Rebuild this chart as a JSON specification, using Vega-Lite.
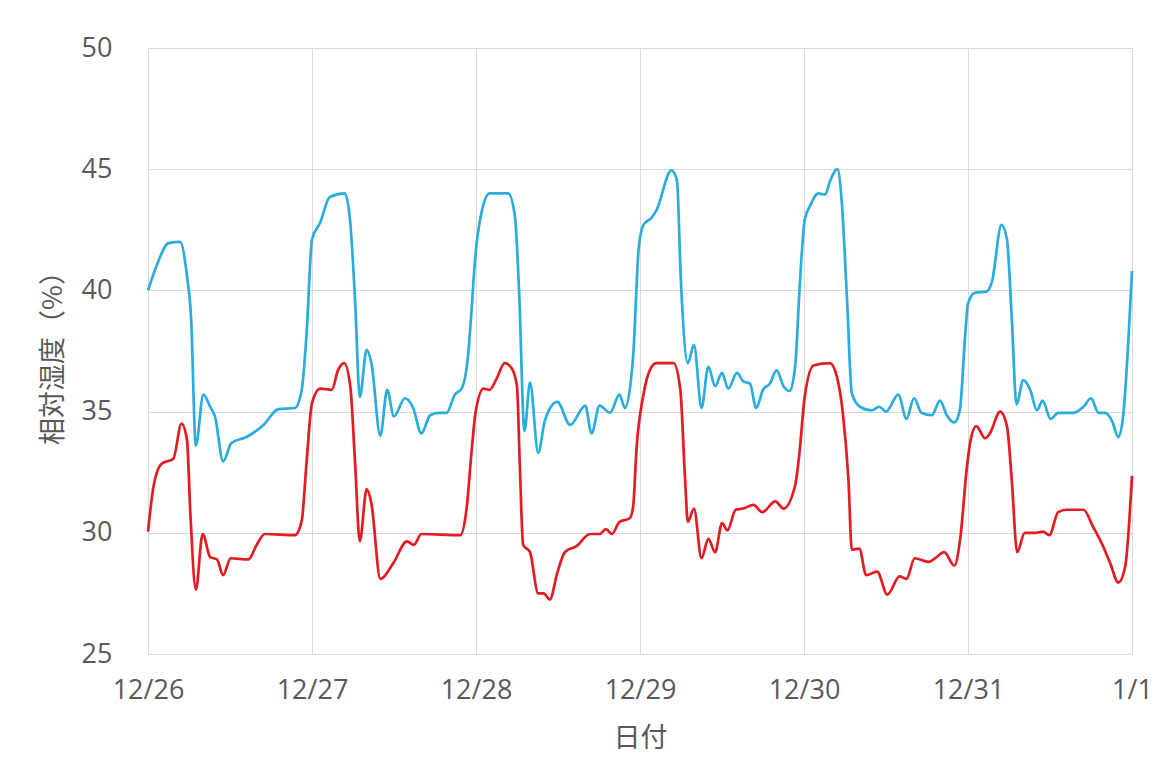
{
  "$schema": "https://vega.github.io/schema/vega-lite/v6.json",
  "width": 984,
  "height": 606,
  "autosize": "none",
  "padding": {"left": 148, "top": 48, "right": 38, "bottom": 120},
  "background": "white",
  "config": {"view": {"stroke": null}},
  "data": {"values": [
    {"s":"A","h":0,"v":40},{"s":"A","h":1.3,"v":41.05},{"s":"A","h":3,"v":41.95},{"s":"A","h":4.7,"v":42},{"s":"A","h":5.7,"v":40.6},{"s":"A","h":6.3,"v":38.9},{"s":"A","h":7,"v":33.6},{"s":"A","h":8.1,"v":35.7},{"s":"A","h":9.1,"v":35.2},{"s":"A","h":9.8,"v":34.8},{"s":"A","h":11,"v":32.95},{"s":"A","h":12.2,"v":33.7},{"s":"A","h":14.4,"v":33.95},{"s":"A","h":16.9,"v":34.45},{"s":"A","h":19.1,"v":35.1},{"s":"A","h":21.5,"v":35.15},{"s":"A","h":22.5,"v":35.9},{"s":"A","h":23.2,"v":38.2},{"s":"A","h":24,"v":42.1},{"s":"A","h":25.2,"v":42.8},{"s":"A","h":26.6,"v":43.85},{"s":"A","h":28.8,"v":44},{"s":"A","h":29.6,"v":42.8},{"s":"A","h":30.3,"v":39.6},{"s":"A","h":31,"v":35.6},{"s":"A","h":32,"v":37.55},{"s":"A","h":32.7,"v":37},{"s":"A","h":34,"v":34},{"s":"A","h":35,"v":35.9},{"s":"A","h":36,"v":34.8},{"s":"A","h":37.6,"v":35.55},{"s":"A","h":38.8,"v":35.15},{"s":"A","h":40,"v":34.1},{"s":"A","h":41.3,"v":34.85},{"s":"A","h":42.5,"v":34.95},{"s":"A","h":43.7,"v":34.95},{"s":"A","h":44.9,"v":35.7},{"s":"A","h":45.9,"v":35.95},{"s":"A","h":46.9,"v":37.5},{"s":"A","h":47.3,"v":39},{"s":"A","h":47.9,"v":41.4},{"s":"A","h":48.8,"v":43.2},{"s":"A","h":50,"v":44},{"s":"A","h":52.7,"v":44},{"s":"A","h":53.7,"v":43.05},{"s":"A","h":54.3,"v":40},{"s":"A","h":55.1,"v":34.2},{"s":"A","h":55.9,"v":36.2},{"s":"A","h":57.1,"v":33.3},{"s":"A","h":58.1,"v":34.65},{"s":"A","h":59.9,"v":35.4},{"s":"A","h":61.8,"v":34.45},{"s":"A","h":64,"v":35.25},{"s":"A","h":64.9,"v":34.1},{"s":"A","h":66.1,"v":35.25},{"s":"A","h":67.6,"v":34.95},{"s":"A","h":69,"v":35.7},{"s":"A","h":69.8,"v":35.15},{"s":"A","h":71,"v":37.3},{"s":"A","h":71.8,"v":41.7},{"s":"A","h":72.5,"v":42.7},{"s":"A","h":73.7,"v":43},{"s":"A","h":74.4,"v":43.3},{"s":"A","h":76.6,"v":44.95},{"s":"A","h":77.4,"v":44.55},{"s":"A","h":78,"v":40.3},{"s":"A","h":79,"v":37},{"s":"A","h":79.9,"v":37.75},{"s":"A","h":81,"v":35.15},{"s":"A","h":82,"v":36.85},{"s":"A","h":83,"v":36.05},{"s":"A","h":84,"v":36.6},{"s":"A","h":84.9,"v":35.95},{"s":"A","h":86.2,"v":36.6},{"s":"A","h":87.1,"v":36.25},{"s":"A","h":88.1,"v":36.15},{"s":"A","h":89,"v":35.15},{"s":"A","h":90,"v":35.9},{"s":"A","h":91,"v":36.15},{"s":"A","h":92,"v":36.7},{"s":"A","h":93,"v":36.05},{"s":"A","h":93.9,"v":35.85},{"s":"A","h":94.7,"v":36.85},{"s":"A","h":95.4,"v":40.3},{"s":"A","h":96.1,"v":42.9},{"s":"A","h":96.9,"v":43.5},{"s":"A","h":98.1,"v":44},{"s":"A","h":99.1,"v":43.95},{"s":"A","h":99.8,"v":44.5},{"s":"A","h":100.9,"v":45},{"s":"A","h":101.5,"v":43.75},{"s":"A","h":102.3,"v":39.6},{"s":"A","h":103,"v":35.75},{"s":"A","h":104.2,"v":35.2},{"s":"A","h":105.9,"v":35.05},{"s":"A","h":107,"v":35.2},{"s":"A","h":108,"v":35},{"s":"A","h":109.8,"v":35.7},{"s":"A","h":111,"v":34.7},{"s":"A","h":112.1,"v":35.55},{"s":"A","h":113.2,"v":34.95},{"s":"A","h":114.7,"v":34.85},{"s":"A","h":115.9,"v":35.45},{"s":"A","h":116.9,"v":34.85},{"s":"A","h":118,"v":34.55},{"s":"A","h":118.8,"v":35.05},{"s":"A","h":119.6,"v":38.2},{"s":"A","h":120,"v":39.45},{"s":"A","h":121,"v":39.9},{"s":"A","h":122.7,"v":39.95},{"s":"A","h":123.5,"v":40.35},{"s":"A","h":124.9,"v":42.7},{"s":"A","h":125.7,"v":42.1},{"s":"A","h":126.4,"v":38.9},{"s":"A","h":127.1,"v":35.3},{"s":"A","h":128.1,"v":36.3},{"s":"A","h":129.1,"v":35.9},{"s":"A","h":130.1,"v":35.05},{"s":"A","h":130.9,"v":35.45},{"s":"A","h":132.1,"v":34.7},{"s":"A","h":133.2,"v":34.95},{"s":"A","h":135.4,"v":34.95},{"s":"A","h":136.9,"v":35.2},{"s":"A","h":138,"v":35.55},{"s":"A","h":139.1,"v":34.95},{"s":"A","h":140.1,"v":34.95},{"s":"A","h":141.1,"v":34.6},{"s":"A","h":142,"v":33.95},{"s":"A","h":142.7,"v":34.8},{"s":"A","h":143.5,"v":38.1},{"s":"A","h":144,"v":40.8},
    {"s":"B","h":0,"v":30.05},{"s":"B","h":0.8,"v":31.9},{"s":"B","h":2,"v":32.85},{"s":"B","h":3.7,"v":33.05},{"s":"B","h":4.9,"v":34.5},{"s":"B","h":5.7,"v":33.85},{"s":"B","h":6.2,"v":30.8},{"s":"B","h":7,"v":27.65},{"s":"B","h":8,"v":29.95},{"s":"B","h":9.1,"v":29},{"s":"B","h":10.1,"v":28.9},{"s":"B","h":11,"v":28.25},{"s":"B","h":12.1,"v":28.95},{"s":"B","h":14.7,"v":28.9},{"s":"B","h":15.9,"v":29.5},{"s":"B","h":17.1,"v":29.95},{"s":"B","h":21.5,"v":29.9},{"s":"B","h":22.5,"v":30.5},{"s":"B","h":23.2,"v":32.9},{"s":"B","h":24,"v":35.35},{"s":"B","h":25.2,"v":35.95},{"s":"B","h":26.9,"v":35.9},{"s":"B","h":27.8,"v":36.7},{"s":"B","h":28.7,"v":37},{"s":"B","h":29.6,"v":36.05},{"s":"B","h":30.3,"v":32.9},{"s":"B","h":31,"v":29.65},{"s":"B","h":32,"v":31.8},{"s":"B","h":32.7,"v":31.2},{"s":"B","h":34,"v":28.1},{"s":"B","h":35.9,"v":28.75},{"s":"B","h":37.9,"v":29.65},{"s":"B","h":38.9,"v":29.5},{"s":"B","h":40,"v":29.95},{"s":"B","h":45.7,"v":29.9},{"s":"B","h":46.6,"v":30.95},{"s":"B","h":47.4,"v":33.5},{"s":"B","h":47.9,"v":34.9},{"s":"B","h":49.1,"v":35.95},{"s":"B","h":50,"v":35.9},{"s":"B","h":51,"v":36.35},{"s":"B","h":52.2,"v":37},{"s":"B","h":53.2,"v":36.8},{"s":"B","h":54,"v":36.05},{"s":"B","h":54.4,"v":32.9},{"s":"B","h":54.9,"v":29.5},{"s":"B","h":55.9,"v":29.2},{"s":"B","h":57.1,"v":27.5},{"s":"B","h":57.9,"v":27.5},{"s":"B","h":58.8,"v":27.25},{"s":"B","h":59.9,"v":28.35},{"s":"B","h":61,"v":29.2},{"s":"B","h":62.7,"v":29.45},{"s":"B","h":64.7,"v":29.95},{"s":"B","h":66.1,"v":29.95},{"s":"B","h":67,"v":30.15},{"s":"B","h":67.9,"v":29.95},{"s":"B","h":69,"v":30.45},{"s":"B","h":70.5,"v":30.6},{"s":"B","h":71,"v":31.1},{"s":"B","h":71.5,"v":33.5},{"s":"B","h":72.5,"v":35.7},{"s":"B","h":73.7,"v":36.85},{"s":"B","h":74.4,"v":37},{"s":"B","h":76.9,"v":37},{"s":"B","h":77.9,"v":35.9},{"s":"B","h":78.6,"v":32.2},{"s":"B","h":79,"v":30.45},{"s":"B","h":79.9,"v":31},{"s":"B","h":81,"v":28.95},{"s":"B","h":82,"v":29.75},{"s":"B","h":83,"v":29.2},{"s":"B","h":84,"v":30.4},{"s":"B","h":84.8,"v":30.1},{"s":"B","h":86,"v":30.95},{"s":"B","h":87.1,"v":31},{"s":"B","h":88.6,"v":31.15},{"s":"B","h":89.9,"v":30.85},{"s":"B","h":91.8,"v":31.3},{"s":"B","h":93,"v":31},{"s":"B","h":94.7,"v":31.95},{"s":"B","h":95.3,"v":33.2},{"s":"B","h":96.1,"v":35.6},{"s":"B","h":97.4,"v":36.9},{"s":"B","h":99.8,"v":37},{"s":"B","h":100.8,"v":36.45},{"s":"B","h":101.7,"v":34.9},{"s":"B","h":102.5,"v":32.2},{"s":"B","h":103,"v":29.3},{"s":"B","h":104.1,"v":29.35},{"s":"B","h":105.1,"v":28.25},{"s":"B","h":106.7,"v":28.4},{"s":"B","h":108.2,"v":27.45},{"s":"B","h":110,"v":28.2},{"s":"B","h":111,"v":28.1},{"s":"B","h":112.2,"v":28.95},{"s":"B","h":114.2,"v":28.8},{"s":"B","h":115.4,"v":29},{"s":"B","h":116.5,"v":29.2},{"s":"B","h":118,"v":28.65},{"s":"B","h":118.9,"v":29.85},{"s":"B","h":119.8,"v":32.6},{"s":"B","h":120.4,"v":33.85},{"s":"B","h":121.2,"v":34.4},{"s":"B","h":122.5,"v":33.9},{"s":"B","h":123.2,"v":34.1},{"s":"B","h":124.7,"v":35},{"s":"B","h":125.7,"v":34.4},{"s":"B","h":126.4,"v":32.2},{"s":"B","h":127.2,"v":29.2},{"s":"B","h":128.3,"v":30},{"s":"B","h":129.8,"v":30},{"s":"B","h":131,"v":30.05},{"s":"B","h":131.9,"v":29.9},{"s":"B","h":133.2,"v":30.85},{"s":"B","h":134.4,"v":30.95},{"s":"B","h":136.9,"v":30.95},{"s":"B","h":138.3,"v":30.25},{"s":"B","h":139.6,"v":29.55},{"s":"B","h":140.8,"v":28.75},{"s":"B","h":142,"v":27.95},{"s":"B","h":143,"v":28.6},{"s":"B","h":144,"v":32.35}
  ]},
  "mark": {"type": "line", "interpolate": "monotone", "strokeWidth": 2.7},
  "encoding": {
    "x": {
      "field": "h", "type": "quantitative",
      "scale": {"domain": [0, 144], "nice": false, "zero": false},
      "axis": {
        "title": "日付",
        "values": [0, 24, 48, 72, 96, 120, 144],
        "labelExpr": "['12/26','12/27','12/28','12/29','12/30','12/31','1/1'][round(datum.value/24)]",
        "grid": true, "gridColor": "#d9d9d9", "gridWidth": 1,
        "domain": false, "ticks": false,
        "labelFont": "Open Sans", "labelFontSize": 27, "labelColor": "#595959", "labelPadding": 23,
        "labelFlush": false,
        "titleFont": "Noto Sans CJK JP", "titleFontSize": 27, "titleFontWeight": "normal", "titleColor": "#595959", "titlePadding": 22
      }
    },
    "y": {
      "field": "v", "type": "quantitative",
      "scale": {"domain": [25, 50], "nice": false, "zero": false},
      "axis": {
        "title": "相対湿度（%）",
        "values": [25, 30, 35, 40, 45, 50],
        "grid": true, "gridColor": "#d9d9d9", "gridWidth": 1,
        "domain": false, "ticks": false,
        "labelFont": "Open Sans", "labelFontSize": 27, "labelColor": "#595959", "labelPadding": 36,
        "labelFlush": false,
        "titleFont": "Noto Sans CJK JP", "titleFontSize": 27, "titleFontWeight": "normal", "titleColor": "#595959", "titlePadding": 14
      }
    },
    "color": {
      "field": "s", "type": "nominal",
      "scale": {"domain": ["A", "B"], "range": ["#2AADDC", "#E31B23"]},
      "legend": null
    }
  }
}
